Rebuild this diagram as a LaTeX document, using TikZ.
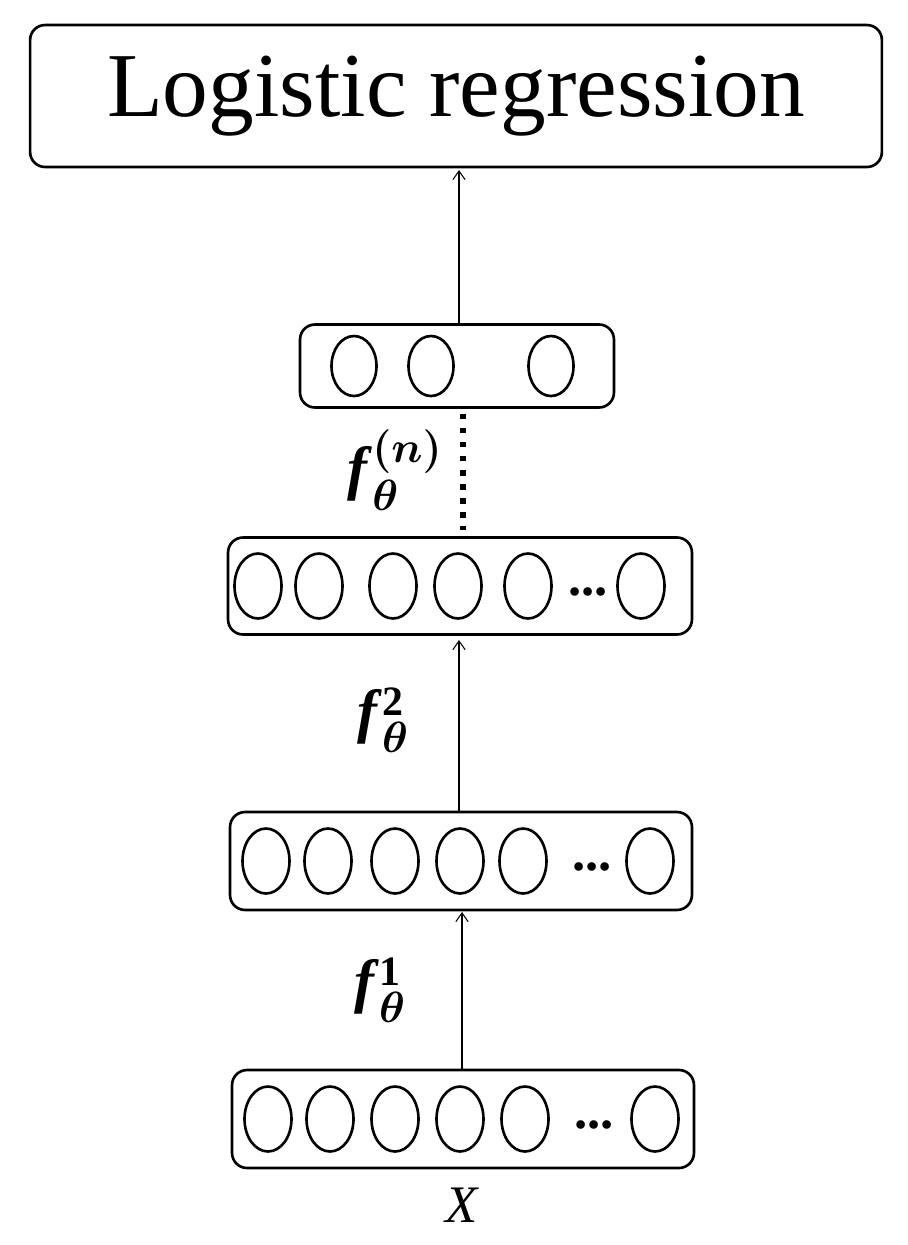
\documentclass[tikz,border=0pt]{standalone}
\usepackage{fontspec}
\usepackage{amsmath,bm}
\setmainfont{Liberation Serif}
\usetikzlibrary{shapes.geometric,arrows.meta}
\begin{document}
\begin{tikzpicture}[x=0.02cm,y=-0.02cm,
  layer/.style={draw,line width=1.5pt,rounded corners=0.3cm,inner sep=0pt},
  unit/.style={draw,ellipse,line width=1.5pt,inner sep=0pt,minimum width=0.94cm,minimum height=1.3cm},
  conn/.style={draw,line width=0.6pt,->,>={Straight Barb[length=5pt,width=7pt]}},
  lab/.style={font=\fontsize{34}{40}\selectfont}]
\useasboundingbox (0,0) rectangle (908,1245);
\node[layer,minimum width=17.04cm,minimum height=2.84cm,font=\fontsize{52}{60}\selectfont] (lr) at (456,96) {Logistic regression};
% top small layer
\node[layer,minimum width=6.28cm,minimum height=1.66cm] (L4) at (457,366) {};
\foreach \x/\n in {354/a,431/b,551/c} \node[unit,minimum width=0.9cm,minimum height=1.2cm] (u4\n) at (\x,366) {};
% layer 3
\node[layer,minimum width=9.28cm,minimum height=1.94cm] (L3) at (460,586) {};
\foreach \x/\n in {258/a,319/b,393/c,458/d,528/e,641/f} \node[unit] (u3\n) at (\x,586) {};
\node[font=\fontsize{30}{30}\selectfont\bfseries] (d3) at (588,592) {...};
% layer 2
\node[layer,minimum width=9.24cm,minimum height=1.96cm] (L2) at (461,861) {};
\foreach \x/\n in {266/a,328/b,395/c,460/d,523/e,650/f} \node[unit] (u2\n) at (\x,861) {};
\node[font=\fontsize{30}{30}\selectfont\bfseries] (d2) at (592,867) {...};
% layer 1
\node[layer,minimum width=9.24cm,minimum height=1.96cm] (L1) at (463,1119) {};
\foreach \x/\n in {268/a,330/b,395/c,460/d,525/e,655/f} \node[unit] (u1\n) at (\x,1119) {};
\node[font=\fontsize{30}{30}\selectfont\bfseries] (d1) at (594,1125) {...};
\node[font=\fontsize{30}{30}\selectfont\itshape] (X) at (462,1205) {X};
% connectors
\coordinate (a1) at (462,1070); \coordinate (b1) at (462,912);
\draw[conn] (a1) -- (b1);
\coordinate (a2) at (459,812); \coordinate (b2) at (459,640);
\draw[conn] (a2) -- (b2);
\coordinate (a4) at (459,325); \coordinate (b4) at (459,170);
\draw[conn] (a4) -- (b4);
\coordinate (c1) at (463,414); \coordinate (c2) at (463,530);
\draw[line width=3pt,dash pattern=on 3pt off 5pt] (c1) -- (c2);
% labels
\node[lab] (f1) at (380,990) {\textbf{\textit{f}}$^{\mathbf{1}}_{\bm{\theta}}$};
\node[lab] (f2) at (383,720) {\textbf{\textit{f}}$^{\mathbf{2}}_{\bm{\theta}}$};
\node[lab] (fn) at (395,470) {\textbf{\textit{f}}$^{\bm{(n)}}_{\bm{\theta}}$};
\end{tikzpicture}
\end{document}
